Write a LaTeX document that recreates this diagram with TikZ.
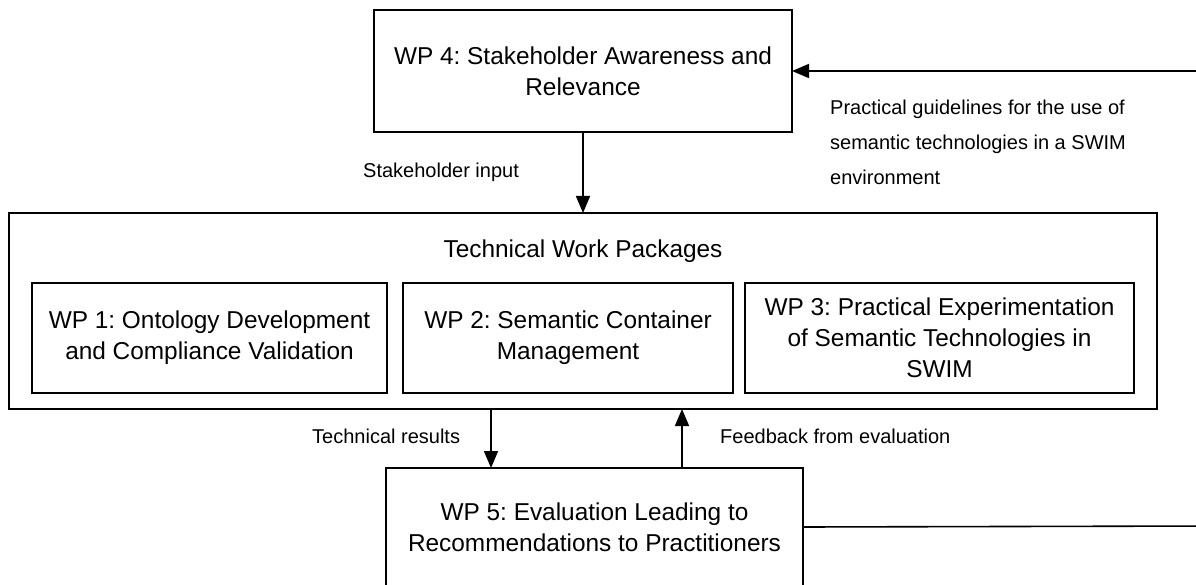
\documentclass[tikz,border=0pt]{standalone}
\usepackage{fontspec}
\setmainfont{Liberation Sans}
\usetikzlibrary{arrows.meta}
\frenchspacing
\begin{document}
\begin{tikzpicture}[x=1pt,y=-1pt,
  box/.style={draw, line width=1.4pt, inner sep=0pt, outer sep=0pt, align=center,
    font=\fontsize{24.4}{31}\selectfont\frenchspacing},
  lbl/.style={inner sep=0pt, font=\fontsize{20}{35}\selectfont\frenchspacing},
  arr/.style={line width=1.6pt, -{Triangle[length=17pt,width=14pt]}}]
\useasboundingbox (0,0) rectangle (1196,585);
\clip (0,0) rectangle (1196,585);
\node[box, minimum width=418pt, minimum height=122pt] (wp4) at (583,71) {WP 4: Stakeholder Awareness and\\Relevance};
\node[box, minimum width=1148pt, minimum height=196pt] (tech) at (583,311) {};
\node[font=\fontsize{24.4}{31}\selectfont, inner sep=0pt] (techlbl) at (583,251) {Technical Work Packages};
\node[box, minimum width=355pt, minimum height=110pt] (wp1) at (209.5,338) {WP 1: Ontology Development\\and Compliance Validation};
\node[box, minimum width=330pt, minimum height=110pt] (wp2) at (568,338) {WP 2: Semantic Container\\Management};
\node[box, minimum width=389pt, minimum height=110pt] (wp3) at (939.5,338) {WP 3: Practical Experimentation\\of Semantic Technologies in\\SWIM};
\node[box, minimum width=417pt, minimum height=118pt] (wp5) at (594.5,527) {WP 5: Evaluation Leading to\\Recommendations to Practitioners};
\coordinate (c1) at (491,0);
\coordinate (c2) at (682,0);
\coordinate (c3) at (1215,526);
\draw[arr] (wp4.south) -- (tech.north);
\draw[arr] (tech.south -| c1) -- (wp5.north -| c1);
\draw[arr] (wp5.north -| c2) -- (tech.south -| c2);
\draw[arr] (wp5.east) -- (c3) |- (wp4.east);
\node[lbl, anchor=west] (l1) at (363,172) {Stakeholder input};
\node[lbl, anchor=west] (l2) at (312,436) {Technical results};
\node[lbl, anchor=west] (l3) at (720,436) {Feedback from evaluation};
\node[lbl, anchor=north west, align=left] (l4) at (830,100) {Practical guidelines for the use of\\semantic technologies in a SWIM\\environment};
\end{tikzpicture}
\end{document}
